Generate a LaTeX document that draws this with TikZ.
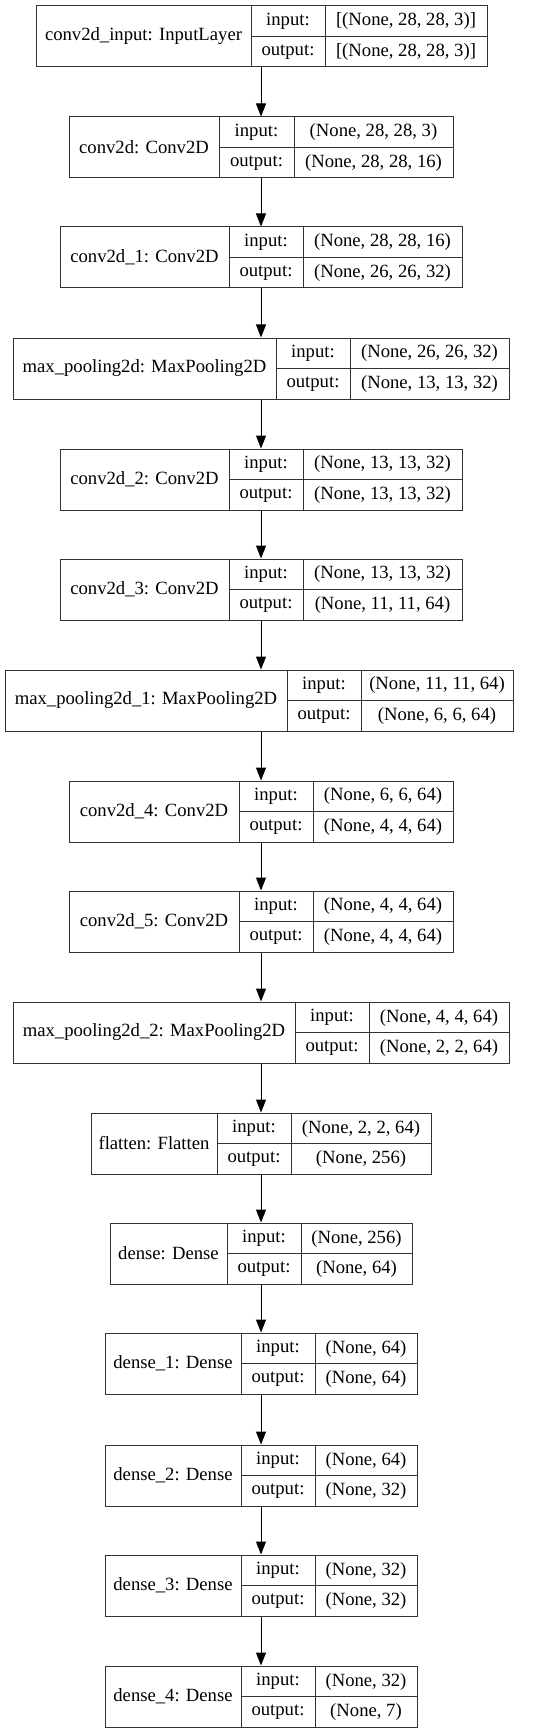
\documentclass[tikz,border=0pt]{standalone}
\usepackage{fontspec}
\setmainfont{Liberation Serif}
\usetikzlibrary{arrows.meta,fit}
\tikzset{
  boxst/.style={draw=black!80, line width=0.75pt, inner sep=0pt},
  cellline/.style={draw=black!80, line width=0.75pt},
  txt/.style={inner sep=0pt, font=\fontsize{14pt}{16pt}\selectfont, anchor=center},
  flow/.style={draw=black, line width=0.75pt, -{Triangle[length=9.75pt,width=7.5pt]}}
}
% #1 name, #2 top, #3 x0, #4 d1, #5 d2, #6 x1, #7 label, #8 input, #9 output
\newcommand\kLayer[9]{%
  \coordinate (#1nw) at (#3,#2);
  \coordinate (#1se) at (#6,#2+61);
  \node[boxst, fit=(#1nw)(#1se)] (#1) {};
  \draw[cellline] (#4,#2) -- (#4,#2+61);
  \draw[cellline] (#5,#2) -- (#5,#2+61);
  \draw[cellline] (#4,#2+30.5) -- (#6,#2+30.5);
  \node[txt] (#1lab) at ({(#3+#4)/2},#2+30.5) {#7};
  \node[txt] (#1in) at ({(#4+#5)/2},#2+15.5) {input:};
  \node[txt] (#1out) at ({(#4+#5)/2},#2+46) {output:};
  \node[txt] (#1inv) at ({(#5+#6)/2},#2+15.5) {#8};
  \node[txt] (#1outv) at ({(#5+#6)/2},#2+46) {#9};
}
\begin{document}
\begin{tikzpicture}[x=0.75pt,y=-0.75pt]
\useasboundingbox[fill=white] (0,0) rectangle (547,1733);
\kLayer{a}{6}{36}{251}{325}{487}{conv2d\_input: InputLayer}{[(None, 28, 28, 3)]}{[(None, 28, 28, 3)]}
\kLayer{b}{117}{69}{219}{294}{453}{conv2d: Conv2D}{(None, 28, 28, 3)}{(None, 28, 28, 16)}
\kLayer{c}{227}{60}{229}{303}{462}{conv2d\_1: Conv2D}{(None, 28, 28, 16)}{(None, 26, 26, 32)}
\kLayer{d}{338}{13}{276}{350}{509}{max\_pooling2d: MaxPooling2D}{(None, 26, 26, 32)}{(None, 13, 13, 32)}
\kLayer{e}{449}{60}{229}{303}{462}{conv2d\_2: Conv2D}{(None, 13, 13, 32)}{(None, 13, 13, 32)}
\kLayer{f}{559}{60}{229}{303}{462}{conv2d\_3: Conv2D}{(None, 13, 13, 32)}{(None, 11, 11, 64)}
\kLayer{g}{670}{5}{287}{361}{513}{max\_pooling2d\_1: MaxPooling2D}{(None, 11, 11, 64)}{(None, 6, 6, 64)}
\kLayer{h}{781}{69}{239}{313}{453}{conv2d\_4: Conv2D}{(None, 6, 6, 64)}{(None, 4, 4, 64)}
\kLayer{i}{891}{69}{239}{313}{453}{conv2d\_5: Conv2D}{(None, 4, 4, 64)}{(None, 4, 4, 64)}
\kLayer{j}{1002}{13}{295}{369}{509}{max\_pooling2d\_2: MaxPooling2D}{(None, 4, 4, 64)}{(None, 2, 2, 64)}
\kLayer{k}{1113}{91}{217}{291}{431}{flatten: Flatten}{(None, 2, 2, 64)}{(None, 256)}
\kLayer{l}{1223}{110}{227}{301}{412}{dense: Dense}{(None, 256)}{(None, 64)}
\kLayer{m}{1333}{105}{241}{315}{417}{dense\_1: Dense}{(None, 64)}{(None, 64)}
\kLayer{n}{1445}{105}{241}{315}{417}{dense\_2: Dense}{(None, 64)}{(None, 32)}
\kLayer{o}{1555}{105}{241}{315}{417}{dense\_3: Dense}{(None, 32)}{(None, 32)}
\kLayer{p}{1666}{105}{241}{315}{417}{dense\_4: Dense}{(None, 32)}{(None, 7)}
\foreach \u/\v in {a/b,b/c,c/d,d/e,e/f,f/g,g/h,h/i,i/j,j/k,k/l,l/m,m/n,n/o,o/p}{
  \draw[flow] (\u.south -| 261,0) -- (\v.north -| 261,0);
}
\end{tikzpicture}
\end{document}
